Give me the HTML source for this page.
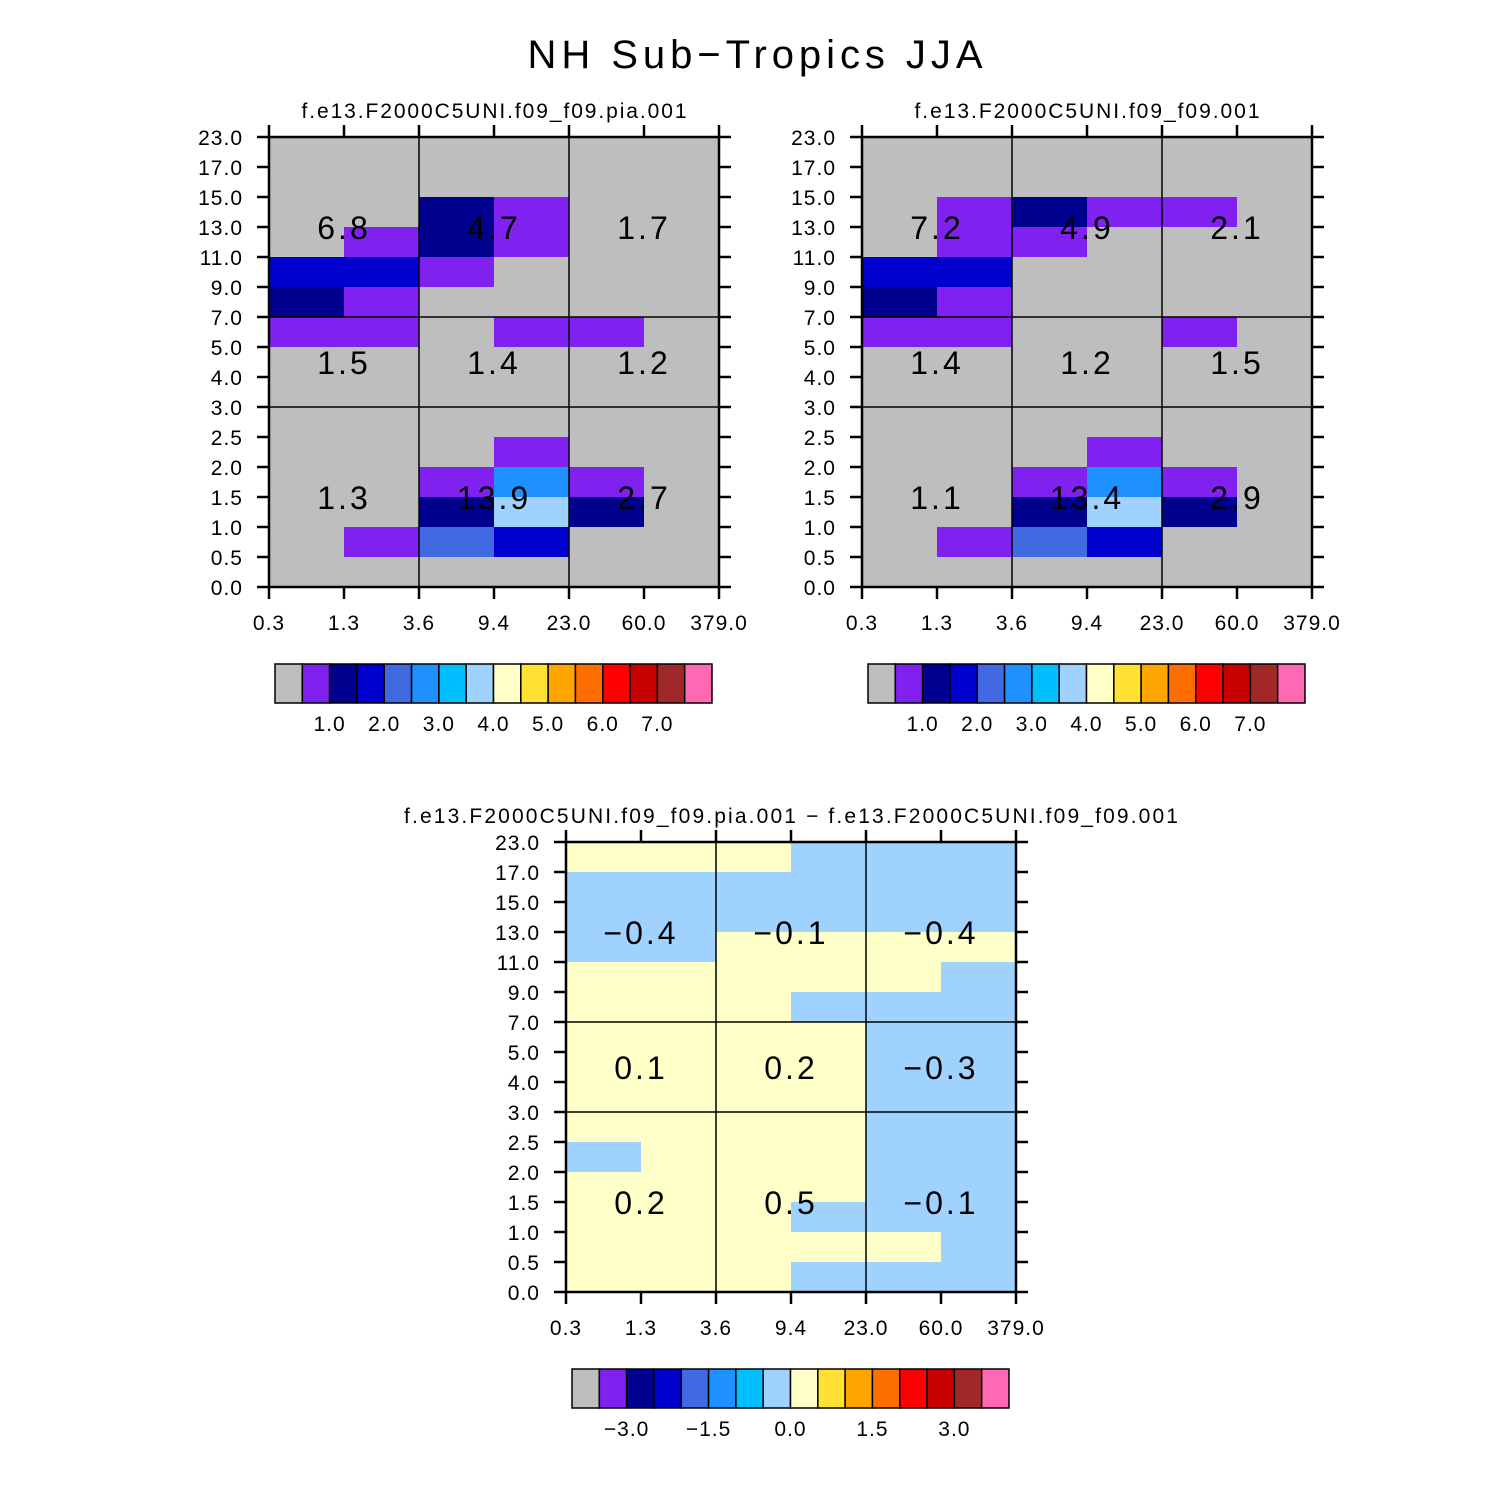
<!DOCTYPE html>
<html><head><meta charset="utf-8"><style>
html,body{margin:0;padding:0;background:#fff;}
svg{display:block;font-family:"Liberation Sans","DejaVu Sans",sans-serif;}
</style></head><body>
<svg id="chart" width="1510" height="1510" viewBox="0 0 1510 1510" xmlns="http://www.w3.org/2000/svg">
<rect width="1510" height="1510" fill="#fff"/>
<text x="755" y="68" font-size="40" text-anchor="middle" textLength="455" lengthAdjust="spacing">NH Sub−Tropics JJA</text>
</svg>
<script>
const xTickLabels = ["0.3","1.3","3.6","9.4","23.0","60.0","379.0"];
const yTickLabels = ["0.0","0.5","1.0","1.5","2.0","2.5","3.0","4.0","5.0","7.0","9.0","11.0","13.0","15.0","17.0","23.0"];
const palette = ["#bebebe","#8021ef","#00008f","#0000cd","#4169e1","#1e90ff","#00bfff","#a0d2ff","#ffffc8","#ffe033","#ffa500","#ff6f00","#ff0000","#c80000","#a02828","#ff69b4"];
const cbLabelsAbs = ["1.0","2.0","3.0","4.0","5.0","6.0","7.0"];
const cbLabelsDiff = ["−3.0","−1.5","0.0","1.5","3.0"];
// rows listed top (17-23) to bottom (0-0.5); columns 0.3..379
const valsPia = [
 [0,0,0,0,0,0],
 [0,0,0,0,0,0],
 [0.2,0.3,1.2,0.7,0.1,0.1],
 [0.3,0.8,1.3,0.8,0.2,0.1],
 [1.7,1.6,0.6,0.3,0.1,0.1],
 [1.2,0.7,0.3,0.2,0.1,0.1],
 [0.6,0.7,0.4,0.6,0.6,0.2],
 [0.3,0.3,0.3,0.3,0.3,0.1],
 [0.3,0.3,0.3,0.3,0.2,0.1],
 [0.3,0.3,0.4,0.4,0.2,0.1],
 [0.2,0.3,0.4,0.7,0.3,0.1],
 [0.2,0.3,0.9,2.7,0.9,0.2],
 [0.1,0.4,1.2,3.7,1.3,0.3],
 [0.1,0.6,2.2,1.8,0.4,0.1],
 [0.1,0.2,0.4,0.4,0.2,0.1]];
const valsCtl = [
 [0,0,0,0,0,0],
 [0,0,0,0,0,0],
 [0.2,0.7,1.2,0.7,0.6,0.1],
 [0.3,0.8,0.6,0.4,0.2,0.1],
 [1.7,1.6,0.4,0.3,0.1,0.1],
 [1.2,0.7,0.3,0.2,0.1,0.1],
 [0.6,0.7,0.4,0.4,0.6,0.2],
 [0.3,0.3,0.3,0.3,0.3,0.1],
 [0.3,0.3,0.3,0.3,0.2,0.1],
 [0.3,0.3,0.4,0.4,0.2,0.1],
 [0.2,0.3,0.4,0.7,0.3,0.1],
 [0.2,0.3,0.9,2.7,0.9,0.2],
 [0.1,0.4,1.1,3.6,1.3,0.3],
 [0.1,0.6,2.2,1.8,0.4,0.1],
 [0.1,0.2,0.4,0.4,0.2,0.1]];
const valsDiff = [
 [0.1,0.1,0.1,-0.1,-0.1,-0.1],
 [-0.1,-0.1,-0.1,-0.1,-0.1,-0.1],
 [-0.1,-0.1,-0.1,-0.1,-0.1,-0.1],
 [-0.1,-0.1,0.1,0.1,0.1,0.1],
 [0.1,0.1,0.1,0.1,0.1,-0.1],
 [0.1,0.1,0.1,-0.1,-0.1,-0.1],
 [0.1,0.1,0.1,0.1,-0.1,-0.1],
 [0.1,0.1,0.1,0.1,-0.1,-0.1],
 [0.1,0.1,0.1,0.1,-0.1,-0.1],
 [0.1,0.1,0.1,0.1,-0.1,-0.1],
 [-0.1,0.1,0.1,0.1,-0.1,-0.1],
 [0.1,0.1,0.1,0.1,-0.1,-0.1],
 [0.1,0.1,0.1,-0.1,-0.1,-0.1],
 [0.1,0.1,0.1,0.1,0.1,-0.1],
 [0.1,0.1,0.1,-0.1,-0.1,-0.1]];
// block totals: rows top/mid/bottom, columns thin/mid/thick
const totPia = [["6.8","4.7","1.7"],["1.5","1.4","1.2"],["1.3","13.9","2.7"]];
const totCtl = [["7.2","4.9","2.1"],["1.4","1.2","1.5"],["1.1","13.4","2.9"]];
const totDiff = [["−0.4","−0.1","−0.4"],["0.1","0.2","−0.3"],["0.2","0.5","−0.1"]];

const NS="http://www.w3.org/2000/svg";
const svg=document.getElementById('chart');
function mk(tag,attrs,parent){const e=document.createElementNS(NS,tag);for(const k in attrs)e.setAttribute(k,attrs[k]);(parent||svg).appendChild(e);return e;}

function panel(name,x0,y0,title,titleLen,vals,tots,offset,cbLabels,cbIdx){
  const W=450,H=450,nc=6,nr=15,cw=W/nc,rh=H/nr;
  const g=mk('g',{});
  
  
  const xs=c=>x0+c*cw;
  const ys=r=>y0+H-r*rh;
  const colorOf=v=>{let i=Math.floor(v/0.5)+offset;if(v>0&&offset===0&&v<0.5)i=0;i=Math.max(0,Math.min(15,i));return palette[i];};
  for(let ri=0;ri<nr;ri++){
    const r=nr-1-ri;
    for(let c=0;c<nc;c++){
      const cell=mk('rect',{x:xs(c),y:ys(r+1),width:cw+0.5,height:rh+0.5,fill:colorOf(vals[ri][c])},g);
      
      
    }
  }
  [2,4].forEach(c=>mk('line',{x1:xs(c),x2:xs(c),y1:y0,y2:y0+H,stroke:'#000','stroke-width':1.5},g));
  [6,9].forEach(r=>mk('line',{x1:x0,x2:x0+W,y1:ys(r),y2:ys(r),stroke:'#000','stroke-width':1.5},g));
  mk('rect',{x:x0,y:y0,width:W,height:H,fill:'none',stroke:'#000','stroke-width':2.5},g);
  for(let i=0;i<=nr;i++){
    const y=ys(i);
    mk('line',{x1:x0-12,x2:x0,y1:y,y2:y,stroke:'#000','stroke-width':2.5},g);
    mk('line',{x1:x0+W,x2:x0+W+12,y1:y,y2:y,stroke:'#000','stroke-width':2.5},g);
    const t=mk('text',{x:x0-26,y:y+8,'font-size':21,'text-anchor':'end','letter-spacing':1},g);
    t.textContent=yTickLabels[i];
    
    
  }
  for(let i=0;i<=nc;i++){
    const x=xs(i);
    mk('line',{x1:x,x2:x,y1:y0-12,y2:y0,stroke:'#000','stroke-width':2.5},g);
    mk('line',{x1:x,x2:x,y1:y0+H,y2:y0+H+12,stroke:'#000','stroke-width':2.5},g);
    const t=mk('text',{x:x,y:y0+H+43,'font-size':21,'text-anchor':'middle','letter-spacing':1},g);
    t.textContent=xTickLabels[i];
    
    
  }
  const tt=mk('text',{x:x0+W/2,y:y0-19,'font-size':21,'text-anchor':'middle',textLength:titleLen,lengthAdjust:'spacing'},g);
  tt.textContent=title;
  
  
  const rowBounds=[[9,15],[6,9],[0,6]];
  for(let b=0;b<3;b++)for(let c=0;c<3;c++){
    const cy=(ys(rowBounds[b][0])+ys(rowBounds[b][1]))/2;
    const t=mk('text',{x:xs(2*c+1),y:cy+12,'font-size':32,'text-anchor':'middle','letter-spacing':3},g);
    t.textContent=tots[b][c];
    
    
  }
  const cbx=x0+6,cby=y0+H+77,bw=437/16,bh=39;
  for(let i=0;i<16;i++){
    const r=mk('rect',{x:cbx+i*bw,y:cby,width:bw,height:bh,fill:palette[i],stroke:'#000','stroke-width':1.5},g);
    
    
  }
  cbLabels.forEach((l,k)=>{
    const t=mk('text',{x:cbx+cbIdx[k]*bw,y:cby+bh+28,'font-size':21,'text-anchor':'middle','letter-spacing':1},g);
    t.textContent=l;
    
    
  });
}
panel('panel-pia',269,137,'f.e13.F2000C5UNI.f09_f09.pia.001',385,valsPia,totPia,0,cbLabelsAbs,[2,4,6,8,10,12,14]);
panel('panel-control',862,137,'f.e13.F2000C5UNI.f09_f09.001',345,valsCtl,totCtl,0,cbLabelsAbs,[2,4,6,8,10,12,14]);
panel('panel-difference',566,842,'f.e13.F2000C5UNI.f09_f09.pia.001  −  f.e13.F2000C5UNI.f09_f09.001',774,valsDiff,totDiff,8,cbLabelsDiff,[2,5,8,11,14]);
</script>
</body></html>
